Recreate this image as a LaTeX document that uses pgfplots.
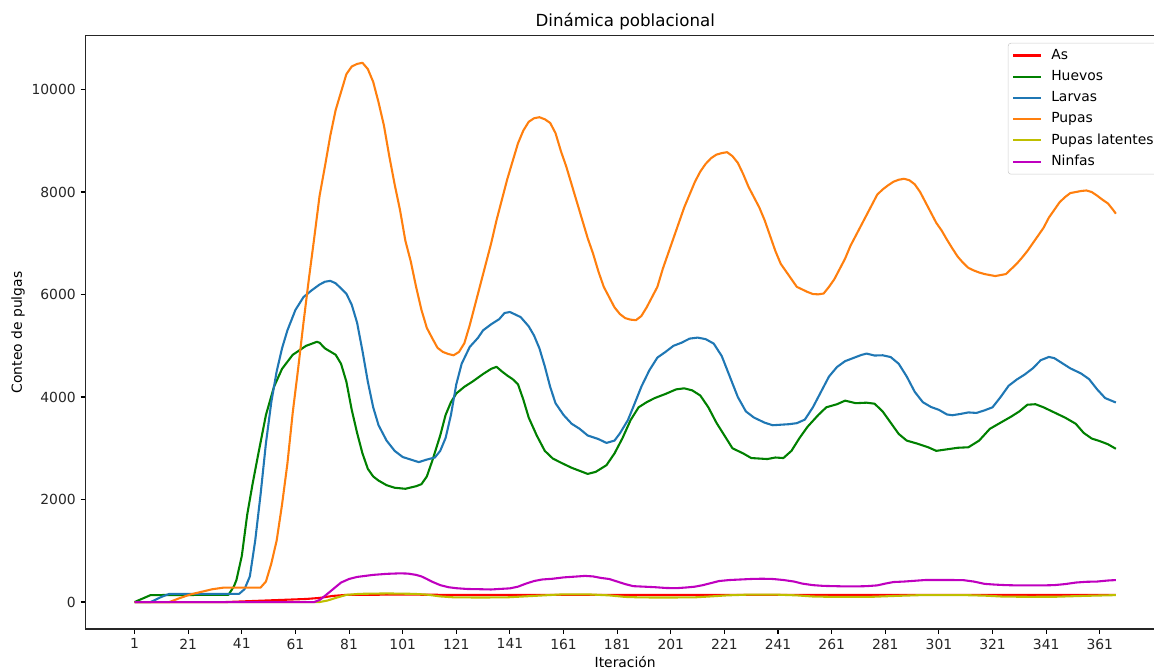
\documentclass[border=0pt]{standalone}
\usepackage{fontspec}
\setmainfont{DejaVu Sans}
\usepackage{pgfplots}
\pgfplotsset{compat=1.18}
\definecolor{mred}{rgb}{1,0,0}
\definecolor{mgreen}{rgb}{0,0.5,0}
\definecolor{tblue}{HTML}{1F77B4}
\definecolor{torange}{HTML}{FF7F0E}
\definecolor{myellow}{rgb}{0.75,0.75,0}
\definecolor{mmag}{rgb}{0.75,0,0.75}
\begin{document}
\begin{tikzpicture}
\begin{axis}[
  scale only axis,
  width=777.2pt, height=427pt,
  xmin=-17.3, xmax=385.3,
  ymin=-526, ymax=11046,
  xtick={1,21,...,361},
  ytick={0,2000,...,10000},
  scaled y ticks=false,
  /pgf/number format/1000 sep={},
  /pgf/number format/assume math mode=true,
  tick label style={font=\fontsize{10}{12}\selectfont, color=black!85},
  tick align=outside,
  xtick pos=bottom, ytick pos=left,
  major tick length=3.5pt,
  every tick/.style={black, line width=0.8pt},
  axis line style={line width=0.8pt, black!85},
  title={Dinámica poblacional},
  title style={font=\fontsize{12}{14}\selectfont, yshift=-5pt},
  xlabel={Iteración},
  ylabel={Conteo de pulgas},
  label style={font=\fontsize{10}{12}\selectfont},
  xlabel style={yshift=1.8pt},
  ylabel style={yshift=-2pt},
  legend style={at={(rel axis cs:1,1)}, anchor=north east, xshift=-3pt, yshift=-5pt,
    draw=black!20, rounded corners=2pt, fill=white, fill opacity=0.8, text opacity=1,
    font=\fontsize{10}{12}\selectfont, inner xsep=3pt, inner ysep=2.5pt, row sep=2.4pt,
    /tikz/every odd column/.append style={column sep=4.5pt}},
  legend cell align=left,
  legend image code/.code={\draw[#1] (0pt,0pt) -- (20pt,0pt);},
  every axis plot/.append style={line width=1.5pt, line join=round},
]
\coordinate (SW) at (rel axis cs:0,0);
\addplot[mred] coordinates {(1,0)(35,0)(45,20)(55,40)(65,60)(70,80)(75,120)(80,140)(100,145)(120,140)(150,140)(200,140)(250,140)(300,140)(367,140)};
\addlegendentry{As}
\addplot[mgreen] coordinates {(1,0)(7,136)(36,140)(38,300)(39,430)(41,900)(43,1700)(45,2300)(47,2850)(50,3650)(53,4200)(56,4550)(60,4825)(65,5000)(69,5078)(70,5060)(72,4950)(76,4825)(78,4650)(80,4300)(82,3750)(84,3300)(86,2900)(88,2600)(90,2450)(92,2370)(95,2280)(98,2230)(102,2210)(106,2260)(108,2300)(110,2450)(112,2750)(115,3250)(117,3650)(119,3900)(121,4070)(124,4200)(127,4300)(131,4450)(134,4550)(136,4590)(138,4500)(140,4420)(142,4350)(144,4250)(146,3950)(148,3600)(151,3250)(154,2950)(157,2800)(160,2720)(164,2620)(167,2560)(170,2500)(173,2540)(177,2670)(180,2900)(183,3200)(186,3550)(189,3800)(192,3900)(195,3980)(199,4060)(203,4150)(206,4170)(209,4130)(212,4030)(215,3800)(218,3500)(221,3250)(224,3000)(228,2900)(231,2810)(234,2800)(237,2790)(240,2820)(243,2810)(246,2950)(249,3200)(252,3420)(256,3650)(259,3800)(263,3860)(266,3930)(270,3880)(274,3890)(277,3870)(280,3720)(283,3500)(286,3280)(289,3150)(293,3090)(297,3020)(300,2950)(304,2980)(308,3010)(312,3020)(316,3150)(320,3380)(324,3500)(328,3620)(331,3720)(334,3850)(337,3860)(340,3800)(344,3700)(348,3600)(352,3480)(355,3300)(358,3190)(361,3140)(364,3080)(367,2990)};
\addlegendentry{Huevos}
\addplot[tblue] coordinates {(1,0)(7,0)(11,100)(14,160)(40,160)(42,250)(44,500)(46,1200)(48,2100)(50,3100)(52,3900)(54,4500)(56,4950)(58,5300)(61,5700)(64,5950)(67,6080)(70,6195)(72,6250)(74,6267)(76,6220)(78,6120)(80,6016)(82,5800)(84,5450)(86,4900)(88,4300)(90,3800)(92,3450)(95,3150)(98,2950)(101,2830)(104,2780)(107,2730)(110,2780)(113,2820)(115,2950)(117,3200)(119,3650)(121,4250)(123,4650)(126,4977)(129,5150)(131,5302)(134,5420)(137,5520)(139,5640)(141,5659)(143,5610)(145,5560)(148,5380)(150,5200)(152,4950)(154,4600)(156,4200)(158,3880)(161,3650)(164,3480)(167,3380)(170,3250)(174,3180)(177,3105)(180,3150)(182,3290)(185,3550)(187,3807)(190,4200)(193,4522)(196,4770)(199,4880)(202,5000)(205,5060)(208,5140)(211,5160)(214,5130)(217,5043)(220,4800)(223,4400)(226,4000)(229,3720)(232,3600)(236,3500)(239,3450)(242,3460)(245,3470)(248,3490)(251,3560)(254,3800)(257,4100)(260,4400)(263,4587)(266,4700)(269,4760)(272,4820)(274,4848)(277,4810)(280,4815)(283,4780)(286,4650)(289,4400)(292,4100)(295,3900)(298,3807)(301,3750)(304,3660)(306,3645)(309,3670)(312,3700)(315,3690)(318,3740)(321,3800)(324,4000)(327,4220)(330,4340)(333,4440)(336,4560)(339,4720)(342,4782)(344,4760)(347,4660)(350,4560)(354,4460)(357,4350)(360,4150)(363,3980)(367,3893)};
\addlegendentry{Larvas}
\addplot[torange] coordinates {(1,0)(14,0)(18,80)(22,150)(26,200)(30,250)(34,280)(48,282)(50,400)(52,750)(54,1200)(56,1900)(58,2700)(60,3700)(62,4550)(64,5450)(66,6300)(68,7100)(70,7926)(72,8500)(74,9100)(76,9600)(78,9950)(80,10300)(82,10450)(84,10500)(86,10522)(88,10400)(90,10150)(92,9750)(94,9300)(96,8700)(98,8150)(100,7650)(102,7050)(104,6650)(106,6150)(108,5700)(110,5350)(112,5150)(114,4960)(116,4880)(118,4840)(120,4815)(122,4880)(124,5050)(126,5400)(128,5800)(130,6200)(132,6600)(134,7000)(136,7450)(138,7850)(140,8250)(142,8600)(144,8950)(146,9200)(148,9370)(150,9440)(152,9460)(154,9420)(156,9350)(158,9150)(160,8800)(162,8500)(164,8150)(166,7800)(168,7450)(170,7100)(172,6800)(174,6450)(176,6150)(178,5950)(180,5750)(182,5620)(184,5540)(186,5510)(188,5500)(190,5580)(192,5750)(194,5950)(196,6150)(198,6500)(200,6800)(202,7100)(204,7400)(206,7700)(208,7950)(210,8200)(212,8400)(214,8550)(216,8660)(218,8730)(220,8760)(222,8778)(224,8700)(226,8570)(228,8350)(230,8100)(232,7900)(234,7700)(236,7450)(238,7150)(240,6850)(242,6600)(244,6450)(246,6300)(248,6150)(250,6100)(252,6050)(254,6010)(256,6004)(258,6020)(260,6150)(262,6300)(264,6500)(266,6700)(268,6950)(270,7150)(272,7350)(274,7550)(276,7750)(278,7950)(280,8050)(282,8130)(284,8200)(286,8240)(288,8259)(290,8230)(292,8150)(294,8000)(296,7800)(298,7600)(300,7400)(302,7250)(304,7070)(306,6900)(308,6740)(310,6620)(312,6520)(314,6470)(316,6430)(318,6400)(320,6380)(322,6361)(324,6380)(326,6400)(328,6500)(330,6600)(332,6720)(334,6850)(336,7000)(338,7150)(340,7300)(342,7500)(344,7650)(346,7800)(348,7900)(350,7980)(352,8000)(354,8020)(356,8031)(358,8000)(360,7930)(362,7850)(364,7780)(366,7650)(367,7577)};
\addlegendentry{Pupas}
\addplot[myellow] coordinates {(1,0)(70,0)(73,30)(76,80)(80,140)(85,160)(95,168)(105,160)(110,145)(115,110)(120,92)(130,88)(140,92)(150,120)(160,148)(170,150)(178,130)(184,100)(190,90)(200,88)(210,92)(216,110)(222,130)(230,145)(240,145)(248,130)(254,108)(262,100)(276,102)(285,120)(295,136)(310,136)(318,125)(325,106)(335,102)(345,104)(355,120)(367,135)};
\addlegendentry{Pupas latentes}
\addplot[mmag] coordinates {(1,0)(68,0)(70,40)(72,120)(75,250)(78,380)(81,450)(84,490)(87,510)(90,530)(95,550)(100,560)(103,555)(106,530)(108,500)(110,450)(112,396)(115,330)(118,290)(121,270)(125,255)(130,250)(134,245)(137,255)(141,267)(144,300)(147,360)(150,410)(153,440)(157,455)(161,481)(165,495)(169,510)(172,500)(175,470)(178,450)(181,400)(184,350)(187,310)(191,300)(195,290)(199,275)(203,270)(207,285)(210,300)(213,330)(216,370)(219,410)(223,430)(227,440)(231,450)(235,455)(239,450)(243,430)(247,400)(250,360)(254,330)(258,315)(262,310)(266,305)(270,305)(274,310)(278,325)(281,360)(284,390)(288,400)(292,415)(296,430)(300,430)(305,430)(310,428)(314,400)(318,355)(322,340)(326,330)(330,325)(335,325)(340,325)(344,330)(348,350)(352,380)(356,395)(360,400)(364,420)(367,429)};
\addlegendentry{Ninfas}
\end{axis}
\pgfresetboundingbox
\path[use as bounding box] ([shift={(-61.56pt,-29.52pt)}]SW) rectangle ([shift={(769.32pt,452.88pt)}]SW);
\end{tikzpicture}
\end{document}
